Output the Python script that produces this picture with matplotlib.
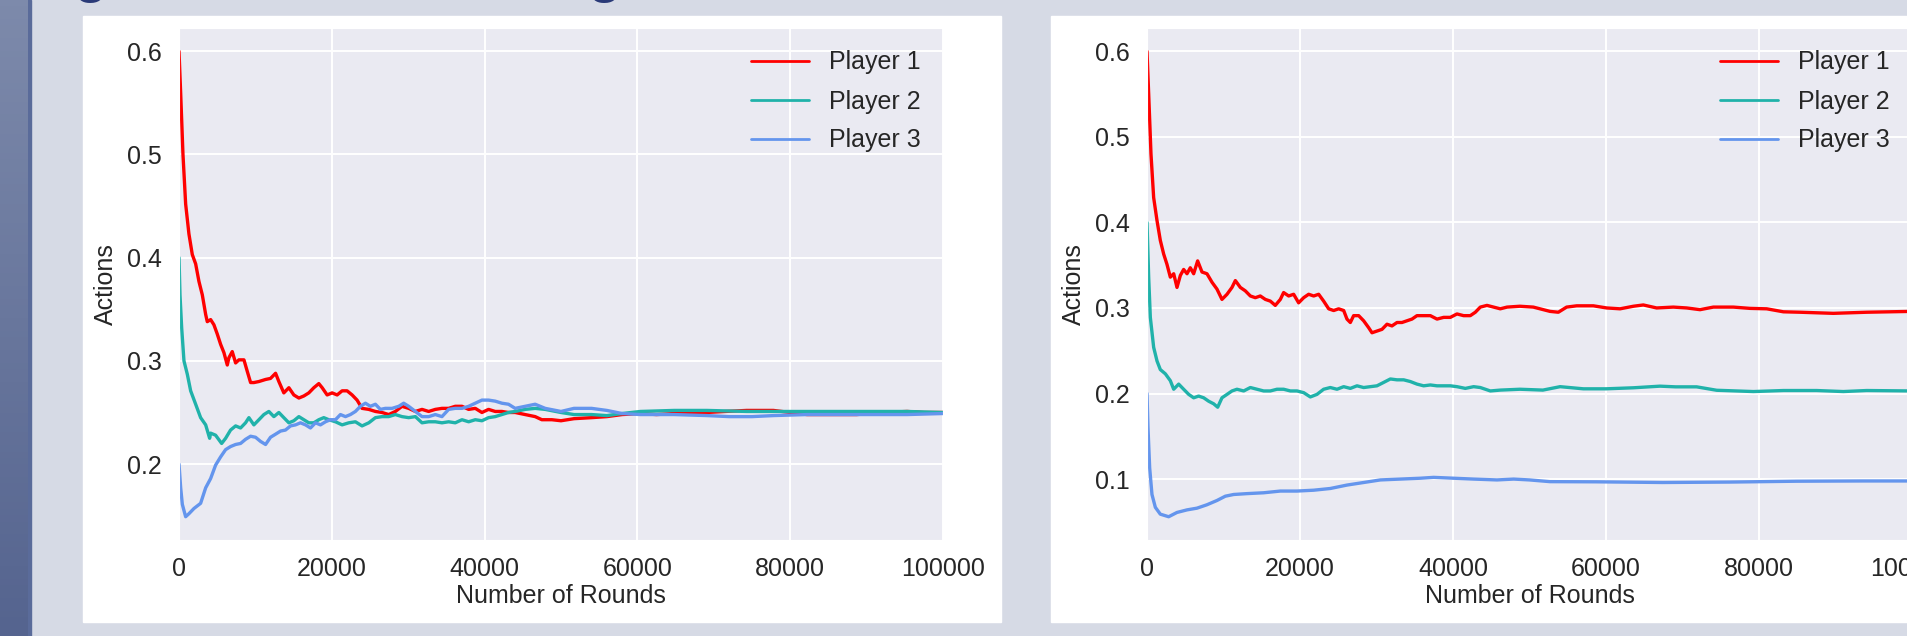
import numpy as np
import matplotlib
matplotlib.use("Agg")
import matplotlib.pyplot as plt
import seaborn as sns
from matplotlib.patches import Rectangle

sns.set_style("darkgrid")
plt.rcParams["font.family"] = ["Liberation Sans", "DejaVu Sans"]

# ---------------- data ----------------
PLAYERS = ["Player 1", "Player 2", "Player 3"]
COLORS = ["#ff0000", "#20b2aa", "#6495ed"]

# left panel: all three players converge to 0.25
left_x_p1 = [0, 220, 520, 870, 1300, 1740, 2180, 2610, 3050, 3490, 3700, 4140, 4570,
             5010, 5450, 5880, 6320, 6530, 6970, 7410, 7840, 8500, 8930, 9370, 9800,
             10460, 11330, 11980, 12640, 13070, 13720, 14380, 15030, 15690, 16340,
             16990, 17650, 18300, 18740, 19390, 20040, 20700, 21350, 22000, 22660,
             23310, 23960, 24840, 25710, 26580, 27450, 28320, 29190, 30060, 30940,
             31810, 32680, 33550, 34420, 35290, 36160, 37040, 37910, 38780, 39650,
             40520, 41390, 42260, 43130, 44000, 45310, 46620, 47490, 48800, 50000,
             51700, 54000, 56000, 58000, 60400, 62500, 64800, 67000, 69100, 71500,
             74300, 77800, 80000, 82200, 85500, 88700, 92000, 95300, 97500, 100000]
left_p1 = [.600, .559, .500, .452, .423, .403, .394, .377, .364, .345, .338, .340, .335,
           .326, .316, .308, .296, .303, .309, .298, .301, .301, .290, .279, .279,
           .280, .282, .283, .288, .280, .269, .274, .267, .264, .266,
           .269, .274, .278, .274, .267, .269, .267, .271, .271, .267,
           .262, .254, .253, .251, .250, .248, .251, .256, .254, .251,
           .253, .251, .253, .254, .254, .256, .256, .253, .254, .250,
           .253, .251, .251, .250, .250, .248, .246, .243, .243, .242,
           .244, .245, .246, .248, .249, .248, .249, .250, .250, .251,
           .252, .252, .250, .248, .248, .248, .250, .251, .250, .250]

left_x_p2 = [0, 130, 350, 650, 1090, 1525, 2180, 2830, 3490, 4010, 4140, 4790, 5580,
             6100, 6750, 7410, 8060, 8710, 9150, 9800, 10460, 11110, 11760, 12420,
             13070, 13720, 14380, 15030, 15690, 16340, 16990, 17650, 18300, 18950,
             19610, 20480, 21350, 22220, 23090, 23960, 24840, 25710, 26580, 27450,
             28320, 29190, 30060, 30940, 31810, 32680, 33550, 34420, 35290, 36160,
             37040, 37910, 38780, 39650, 40520, 41390, 42260, 43130, 44000, 45310,
             46620, 47930, 50000, 51700, 54000, 56000, 58000, 60400, 64800, 69100,
             74300, 77800, 82200, 88700, 95300, 100000]
left_p2 = [.400, .364, .332, .300, .287, .271, .258, .245, .238, .225, .230, .228, .220,
           .225, .233, .237, .235, .240, .245, .238, .243, .248, .251, .246,
           .250, .245, .240, .242, .246, .243, .240, .240, .243, .245,
           .243, .241, .238, .240, .241, .237, .240, .245, .246, .246,
           .248, .246, .245, .246, .240, .241, .241, .240, .241, .240,
           .243, .241, .243, .242, .245, .246, .248, .250, .251, .253,
           .254, .253, .250, .248, .248, .247, .249, .251, .252, .252,
           .251, .251, .251, .251, .251, .250]

left_x_p3 = [0, 220, 435, 870, 1310, 1960, 2830, 3490, 4140, 4790, 5450, 6100, 6750,
             7410, 8060, 8710, 9370, 10020, 10670, 11330, 11980, 12640, 13290, 13940,
             14600, 15250, 15900, 16560, 17210, 17860, 18520, 19170, 19820, 20480,
             21130, 21790, 22440, 23090, 23750, 24400, 25050, 25710, 26360, 27010,
             27890, 28760, 29410, 30060, 30940, 31810, 32680, 33550, 34420, 35290,
             36160, 37040, 37910, 38780, 39650, 40520, 41390, 42260, 43130, 44000,
             45310, 46620, 47930, 50000, 51700, 54000, 56000, 58000, 60400, 64800,
             69100, 72000, 75000, 77800, 82200, 88700, 95300, 100000]
left_p3 = [.200, .177, .161, .149, .152, .157, .162, .177, .186, .199, .207, .214, .217,
           .219, .220, .224, .227, .226, .222, .219, .226, .229, .232, .233,
           .237, .238, .240, .238, .235, .240, .238, .241, .243, .243,
           .248, .246, .248, .251, .256, .259, .256, .258, .253, .254,
           .254, .256, .259, .256, .251, .246, .246, .248, .246, .253,
           .254, .254, .256, .259, .262, .262, .261, .259, .258, .254,
           .256, .258, .254, .251, .254, .254, .252, .249, .248, .248,
           .247, .246, .246, .247, .248, .248, .248, .249]

# right panel: players settle at 0.3 / 0.2 / 0.1
right_x_p1 = [0, 220, 520, 870, 1310, 1740, 2180, 2610, 3050, 3490, 3920, 4360, 4790,
              5230, 5660, 6100, 6620, 7190, 7840, 8500, 9150, 9800, 10460, 11110,
              11550, 12200, 12850, 13510, 14160, 14810, 15470, 16120, 16770, 17430,
              17860, 18520, 19170, 19820, 20480, 21130, 21790, 22440, 23090, 23750,
              24400, 25050, 25710, 26140, 26580, 27010, 27670, 28320, 28970, 29410,
              30060, 30720, 31370, 32020, 32680, 33330, 33980, 34640, 35290, 36160,
              37040, 37910, 38780, 39650, 40520, 41390, 42260, 42920, 43570, 44440,
              45310, 46180, 47060, 48750, 50500, 52680, 53770, 54850, 56170, 58350,
              60090, 61840, 63580, 64880, 66620, 68800, 70550, 72290, 74030, 76650,
              78830, 81010, 83190, 85370, 89720, 94080, 100000]
right_p1 = [.600, .550, .480, .429, .402, .379, .363, .351, .336, .340, .324, .338, .345,
            .340, .347, .340, .355, .342, .340, .330, .322, .310, .316, .324,
            .332, .324, .320, .314, .312, .314, .310, .308, .303, .310,
            .318, .314, .316, .306, .312, .316, .314, .316, .308, .299,
            .297, .299, .297, .287, .283, .291, .291, .285, .277, .271,
            .273, .275, .281, .279, .283, .283, .285, .287, .291, .291,
            .291, .287, .289, .289, .293, .291, .291, .295, .301, .303,
            .301, .299, .301, .302, .301, .296, .295, .301, .3025, .3025,
            .300, .299, .302, .3035, .300, .301, .300, .298, .301, .301,
            .2995, .299, .2955, .295, .2937, .295, .296]

right_x_p2 = [0, 220, 435, 870, 1310, 1740, 2400, 3050, 3490, 4140, 4790, 5450, 6100,
              6750, 7410, 8060, 8710, 9240, 9800, 10460, 11110, 11760, 12640, 13510,
              14380, 15250, 16120, 16990, 17860, 18740, 19610, 20480, 21350, 22220,
              23090, 23960, 24840, 25710, 26580, 27450, 28320, 29190, 30060, 30940,
              31810, 32680, 33550, 34420, 35290, 36160, 37040, 37910, 38780, 39650,
              40520, 41610, 42700, 43570, 44880, 46180, 48750, 51750, 54000, 57040,
              60000, 63580, 67060, 69100, 71850, 74470, 79270, 83190, 87540, 91030,
              94080, 100000]
right_p2 = [.400, .336, .289, .254, .238, .228, .223, .215, .205, .211, .205, .199, .195,
            .197, .195, .191, .188, .184, .195, .199, .203, .205, .203, .207,
            .205, .203, .203, .205, .205, .203, .203, .201, .196, .199,
            .205, .207, .205, .208, .206, .209, .207, .208, .209, .213,
            .217, .216, .216, .214, .211, .209, .210, .209, .209, .209,
            .208, .206, .208, .207, .203, .204, .205, .204, .208, .2055,
            .2055, .2067, .2086, .2078, .2078, .2038, .2023, .2035, .2035, .2023,
            .2035, .203]

right_x_p3 = [0, 130, 350, 650, 1090, 1740, 2830, 3920, 5230, 6530, 7840, 9150, 10240,
              11330, 13070, 15250, 17430, 19610, 21790, 23960, 26140, 28320, 30500,
              33110, 35730, 37470, 40090, 42700, 45750, 47930, 50000, 52680, 58700,
              67400, 76100, 84900, 93600, 100000]
right_p3 = [.200, .160, .113, .082, .067, .059, .056, .061, .064, .066, .070, .075, .080,
            .082, .083, .084, .086, .086, .087, .089, .093, .096, .099,
            .100, .101, .102, .101, .100, .099, .100, .099, .097, .0968,
            .096, .0965, .0975, .0978, .0978]

LEFT_SERIES = [(left_x_p1, left_p1), (left_x_p2, left_p2), (left_x_p3, left_p3)]
RIGHT_SERIES = [(right_x_p1, right_p1), (right_x_p2, right_p2), (right_x_p3, right_p3)]
X_TICKS = [0, 20000, 40000, 60000, 80000, 100000]

# ---------------- figure / slide background ----------------
W, H = 1908, 636
fig = plt.figure(figsize=(W / 100, H / 100), dpi=100, facecolor="#d6dae5")


def fig_rect(x0, y0, x1, y1, color):
    """rectangle in pixel coords (top-left origin), drawn under the axes"""
    fig.patches.append(Rectangle((x0 / W, 1 - y1 / H), (x1 - x0) / W, (y1 - y0) / H,
                                 transform=fig.transFigure, color=color, zorder=-5))


# dark side strip (vertical gradient)
strip = fig.add_axes([0, 0, 28 / W, 1])
strip.imshow(np.linspace(0, 1, 100).reshape(-1, 1), aspect="auto",
             cmap=matplotlib.colors.LinearSegmentedColormap.from_list(
                 "strip", ["#7d8aab", "#55648f"]))
strip.set_axis_off()
fig_rect(27, 0, 31, H, "#5a6b9a")

# white panels
fig_rect(83, 16, 1001, 622, "white")
fig_rect(1051, 16, W, 622, "white")

# cut-off title glyphs at top edge
for gx in (91, 605):
    fig.text(gx / W, 1 + 9 / H, "g", fontsize=40, color="#2a3a78",
             ha="center", va="baseline", fontweight="bold")

# ---------------- plots ----------------
ax_pos = [(179, 943), (1147, 1912)]
for (x0, x1), series in zip(ax_pos, [LEFT_SERIES, RIGHT_SERIES]):
    ax = fig.add_axes([x0 / W, 1 - 540 / H, (x1 - x0) / W, 512 / H])
    for (xs, ys), name, c in zip(series, PLAYERS, COLORS):
        ax.plot(xs, ys, color=c, lw=2.4, label=name)
    ax.set_xlim(0, 100000)
    ax.set_xticks(X_TICKS)
    ax.tick_params(labelsize=18, pad=9, colors="#262626")
    ax.grid(color="white", lw=1.4)
    ax.set_xlabel("Number of Rounds", fontsize=18, labelpad=2, color="#262626")
    ax.set_ylabel("Actions", fontsize=18, labelpad=6, color="#262626")
    leg = ax.legend(loc="upper right", frameon=False, fontsize=18, handlelength=2.3,
                    labelspacing=0.6, borderaxespad=0.5, labelcolor="#262626")
    for h in leg.get_lines():
        h.set_linewidth(2.0)

fig.savefig("out.png", dpi=100, facecolor=fig.get_facecolor())
